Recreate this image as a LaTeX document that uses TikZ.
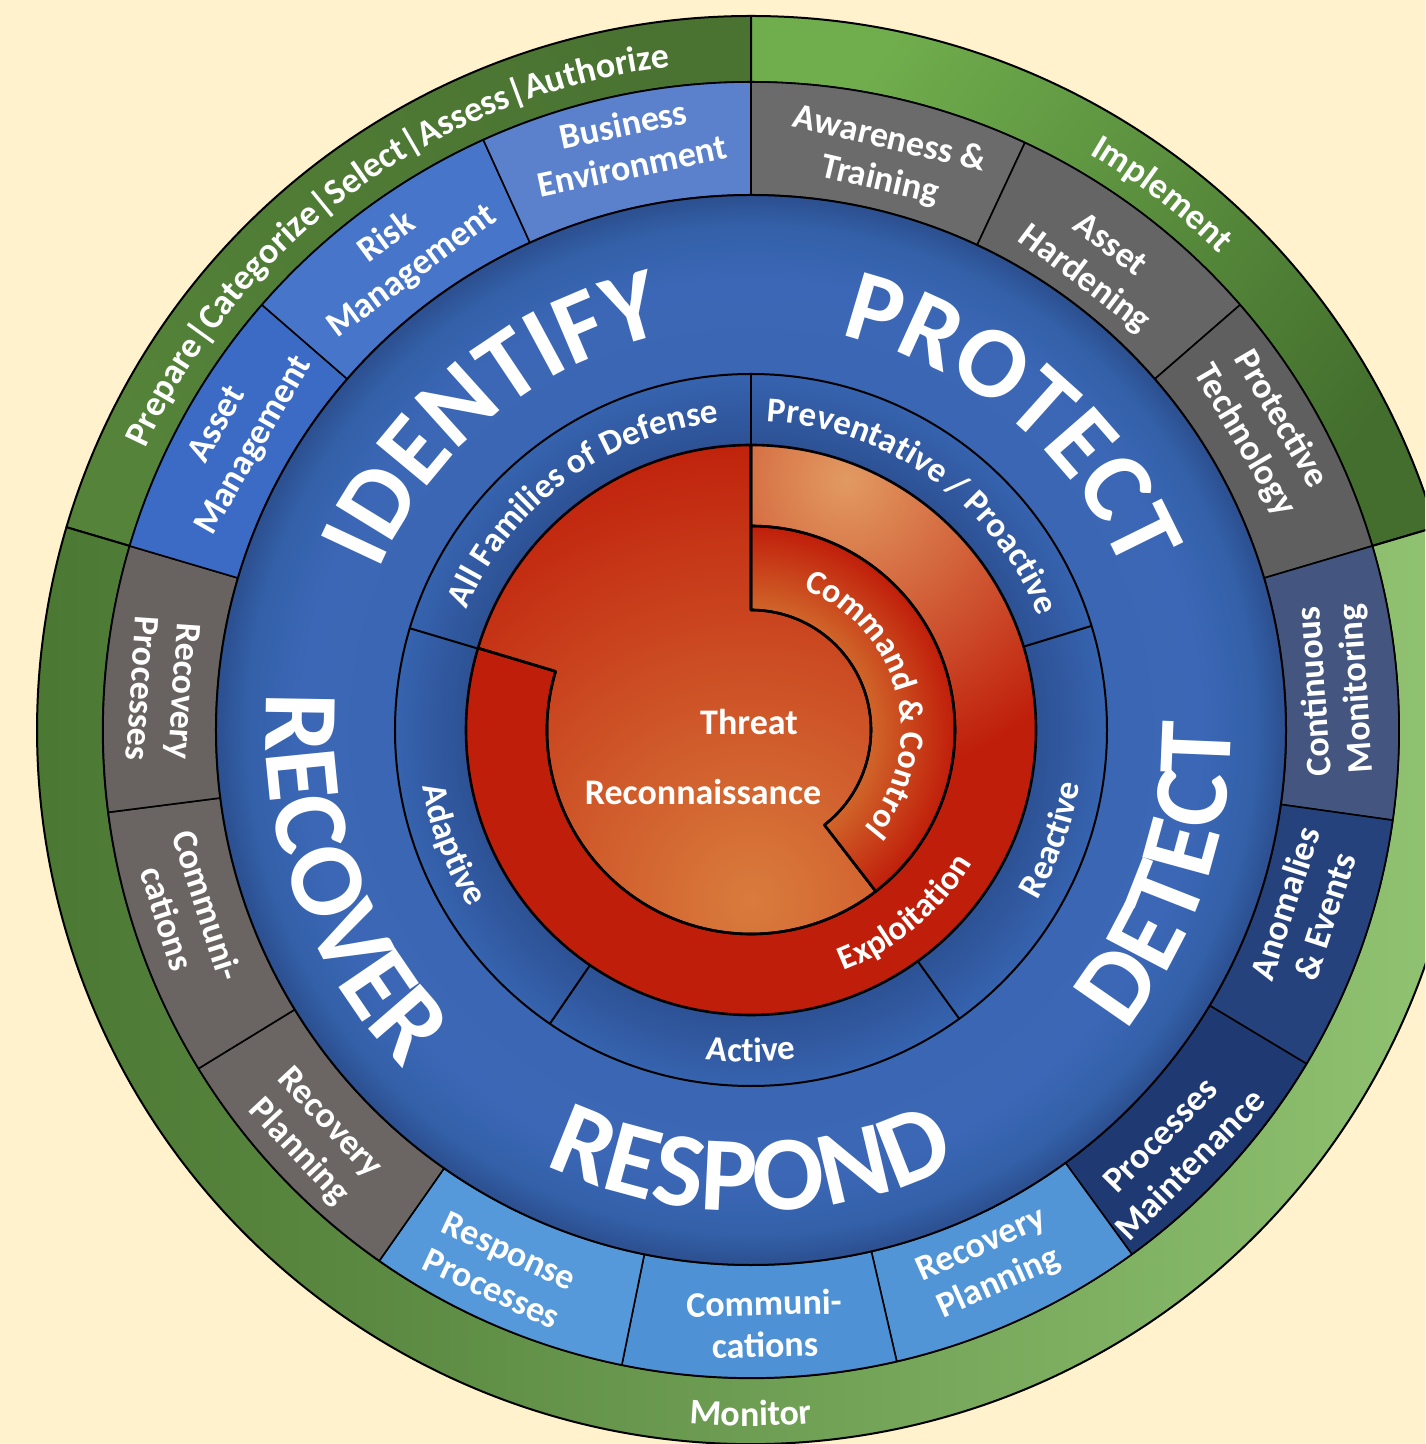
\documentclass[tikz,border=0pt]{standalone}
\usepackage{fontspec}
\setmainfont{Carlito}
\usetikzlibrary{decorations.text}
\chardef\vbar="7C
\definecolor{bgc}{HTML}{FFF2CC}
\definecolor{gD}{HTML}{4A7331}
\definecolor{gDe}{HTML}{548339}
\definecolor{gM}{HTML}{5E9A41}
\definecolor{gL}{HTML}{6CAA4B}
\definecolor{gLt}{HTML}{70AE4D}
\definecolor{gDr}{HTML}{436E2D}
\definecolor{gLL}{HTML}{95C876}
\definecolor{gMon}{HTML}{5B8E3C}
\definecolor{gDL}{HTML}{4A7732}
\definecolor{cAw}{HTML}{6B6B6B}
\definecolor{cAH}{HTML}{656565}
\definecolor{cPT}{HTML}{5F5F5F}
\definecolor{cCM}{HTML}{44567F}
\definecolor{cAE}{HTML}{25427C}
\definecolor{cPM}{HTML}{1F3A72}
\definecolor{cRPr}{HTML}{5195D7}
\definecolor{cCo}{HTML}{4E92D5}
\definecolor{cRsp}{HTML}{5699DA}
\definecolor{cRPl}{HTML}{6B6563}
\definecolor{cCoL}{HTML}{6A6462}
\definecolor{cRPs}{HTML}{686260}
\definecolor{cAM}{HTML}{3C6BC6}
\definecolor{cRM}{HTML}{4775C9}
\definecolor{cBE}{HTML}{5B81CC}
\definecolor{bbA}{HTML}{3A66B3}
\definecolor{bbB}{HTML}{3B67B6}
\definecolor{bbC}{HTML}{3360A8}
\definecolor{bbD}{HTML}{2C4F8F}
\definecolor{ibA}{HTML}{2D5194}
\definecolor{ibB}{HTML}{3663AF}
\definecolor{rD}{HTML}{BF1E0A}
\definecolor{rL}{HTML}{D97C3D}
\definecolor{eL}{HTML}{E29A62}
\definecolor{ccIn}{HTML}{D0652A}
\definecolor{ccOut}{HTML}{C01E0A}
\pgfdeclareradialshading{bigblue}{\pgfpoint{0bp}{0bp}}{color(0bp)=(bbA); color(16.6bp)=(bbA); color(21bp)=(bbB); color(23.6bp)=(bbC); color(25bp)=(bbD); color(50bp)=(bbD)}
\pgfdeclareradialshading{innerblue}{\pgfpoint{0bp}{0bp}}{color(0bp)=(ibA); color(20bp)=(ibA); color(25bp)=(ibB); color(50bp)=(ibB)}
\pgfdeclareradialshading{ccrad}{\pgfpoint{0bp}{0bp}}{color(0bp)=(ccIn); color(14.7bp)=(ccIn); color(25bp)=(ccOut); color(50bp)=(ccOut)}
\newcommand\annseg[5]{\path[#5] (#1:#3) -- (#1:#4) arc[start angle=#1,end angle=#2,radius=#4] -- (#2:#3) arc[start angle=#2,end angle=#1,radius=#3] -- cycle;}
\newcommand\cwtext[4]{\path[decorate,decoration={text along path,text align=center,text={|#3|#4}}] ({#1+88}:#2) arc[start angle={#1+88},end angle={#1-88},radius=#2];}
\newcommand\ccwtext[4]{\path[decorate,decoration={text along path,text align=center,text={|#3|#4}}] ({#1-88}:#2) arc[start angle={#1-88},end angle={#1+88},radius=#2];}
\newcommand\fS{\fontsize{18}{21}\selectfont\bfseries\color{white}}
\newcommand\fI{\fontsize{17.5}{21}\selectfont\bfseries\color{white}}
\newcommand\fR{\fontsize{17}{21}\selectfont\bfseries\color{white}}
\newcommand\fB{\fontsize{53}{60}\selectfont\bfseries\color{white}}
\newcommand\fBu{\fontsize{51}{60}\selectfont\bfseries\color{white}}
\newcommand\reconpath{(90:120) -- (90:285) arc[start angle=90,end angle=163.3,radius=285] -- (163.3:204) arc[start angle=163.3,end angle=307.7,radius=204] -- (307.7:120) arc[start angle=307.7,end angle=450,radius=120] -- cycle}
\newcommand\explopath{(90:204) -- (90:285) arc[start angle=90,end angle=-196.7,radius=285] -- (-196.7:204) arc[start angle=-196.7,end angle=90,radius=204] -- cycle}
\newcommand\ccpath{(90:204) arc[start angle=90,end angle=-52.3,radius=204] -- (-52.3:120) arc[start angle=-52.3,end angle=90,radius=120] -- cycle}
\begin{document}
\begin{tikzpicture}[x=0.5pt,y=0.5pt,line join=round,
  segst/.style={draw=black,line width=0.8pt},
  grst/.style={draw=black,line width=1pt},
  lbl/.style={text=white,font=\fontsize{18}{21}\selectfont\bfseries,align=center,inner sep=0pt}]
\useasboundingbox (-751,-714) rectangle (674,730);
\clip (-751,-714) rectangle (674,730);
\fill[bgc] (-751,-714) rectangle (674,730);
% green ring
\annseg{163.5}{90}{648}{714}{grst,top color=gD,middle color=gL,bottom color=gDe,shading angle=-53.25}
\annseg{90}{16.5}{648}{714}{grst,top color=gLt,middle color=gM,bottom color=gDr,shading angle=53.3}
\annseg{16.5}{-196.5}{648}{714}{grst,left color=gDL,middle color=gMon,right color=gLL}
% category ring
\annseg{90}{65}{535}{648}{segst,fill=cAw}
\annseg{65}{41}{535}{648}{segst,fill=cAH}
\annseg{41}{16.5}{535}{648}{segst,fill=cPT}
\annseg{16.5}{-8}{535}{648}{segst,fill=cCM}
\annseg{-8}{-31}{535}{648}{segst,fill=cAE}
\annseg{-31}{-54}{535}{648}{segst,fill=cPM}
\annseg{-54}{-77}{535}{648}{segst,fill=cRPr}
\annseg{-77}{-101.5}{535}{648}{segst,fill=cCo}
\annseg{-101.5}{-125}{535}{648}{segst,fill=cRsp}
\annseg{-125}{-148.5}{535}{648}{segst,fill=cRPl}
\annseg{-148.5}{-172.7}{535}{648}{segst,fill=cCoL}
\annseg{-172.7}{-196.5}{535}{648}{segst,fill=cRPs}
\annseg{-196.5}{-221}{535}{648}{segst,fill=cAM}
\annseg{-221}{-245.6}{535}{648}{segst,fill=cRM}
\annseg{-245.6}{-270}{535}{648}{segst,fill=cBE}
% big blue disk
\shade[shading=bigblue] (0,0) circle (535);
\draw[line width=1pt] (0,0) circle (535);
% inner defense ring
\shade[shading=innerblue] (0,0) circle (356);
\foreach \a in {90,17,-54.2,-124.4,-196.6} \draw[line width=1pt] (\a:285) -- (\a:356);
\draw[line width=1pt] (0,0) circle (356);
% red core
\begin{scope}
\clip \reconpath;
\fill[rD] (-300,-300) rectangle (300,300);
\shade[inner color=rL,outer color=rD] (0,-170) circle (480);
\end{scope}
\begin{scope}
\clip \explopath;
\fill[rD] (-300,-300) rectangle (300,300);
\shade[inner color=eL,outer color=rD] (95,250) circle (300);
\end{scope}
\begin{scope}
\clip \ccpath;
\shade[shading=ccrad] (0,0) circle (204);
\end{scope}
\draw[line width=1.3pt] \reconpath;
\draw[line width=1.3pt] \explopath;
\draw[line width=1.3pt] \ccpath;
% big labels
\cwtext{129.5}{405}{\fBu}{IDENTIFY}
\cwtext{50}{405}{\fBu}{PROTECT}
\ccwtext{-19}{480}{\fB}{DETECT}
\ccwtext{-90}{481}{\fB}{RESPOND}
\ccwtext{200}{485}{\fB}{RECOVER}
% green labels
\cwtext{126}{668}{\fS}{Prepare{\vbar}Categorize{\vbar}Select{\vbar}Assess{\vbar}Authorize}
\cwtext{52.5}{668}{\fS}{Implement}
\ccwtext{-90}{696}{\fS}{Monitor}
% inner ring labels
\cwtext{126.5}{309}{\fI}{All Families of Defense}
\cwtext{54.3}{309}{\fI}{Preventative / Proactive}
\ccwtext{-20}{333}{\fI}{Reactive}
\ccwtext{-90}{332}{\fI}{Active}
\ccwtext{201}{333}{\fI}{Adaptive}
% red labels
\cwtext{14.5}{150}{\fR}{Command {\&} Control}
\ccwtext{-50}{258}{\fR}{Exploitation}
\node[lbl] (threat) at (-2,8) {Threat};
\node[lbl] (recon) at (-48,-62) {Reconnaissance};
% category labels
\node[lbl,rotate=-13.2] (aw) at (76.8:585) {Awareness \&\\Training};
\node[lbl,rotate=-37] (ah) at (53.5:581) {Asset\\Hardening};
\node[lbl,rotate=-59.6] (pt) at (30.4:593) {Protective\\Technology};
\node[lbl,rotate=93.9] (cm) at (3.9:587) {Continuous\\Monitoring};
\node[lbl,rotate=72] (ae) at (-18:582) {Anomalies\\\& Events};
\node[lbl,rotate=45.3] (pm) at (-44.7:597) {Processes\\Maintenance};
\node[lbl,rotate=24.1] (rpr) at (-65.9:586) {Recovery\\Planning};
\node[lbl,rotate=1.3] (co) at (-88.7:594) {Communi-\\cations};
\node[lbl,rotate=-24.9] (rsp) at (-114.9:595) {Response\\Processes};
\node[lbl,rotate=-47] (rpl) at (-137:598) {Recovery\\Planning};
\node[lbl,rotate=-72.1] (col) at (-162.1:592) {Communi-\\cations};
\node[lbl,rotate=-93.9] (rps) at (176.1:589) {Recovery\\Processes};
\node[lbl,rotate=60.2] (am) at (150.2:593) {Asset\\Management};
\node[lbl,rotate=36.5] (rm) at (126.5:591) {Risk\\Management};
\node[lbl,rotate=11.9] (be) at (101.9:598) {Business\\Environment};
\end{tikzpicture}
\end{document}
